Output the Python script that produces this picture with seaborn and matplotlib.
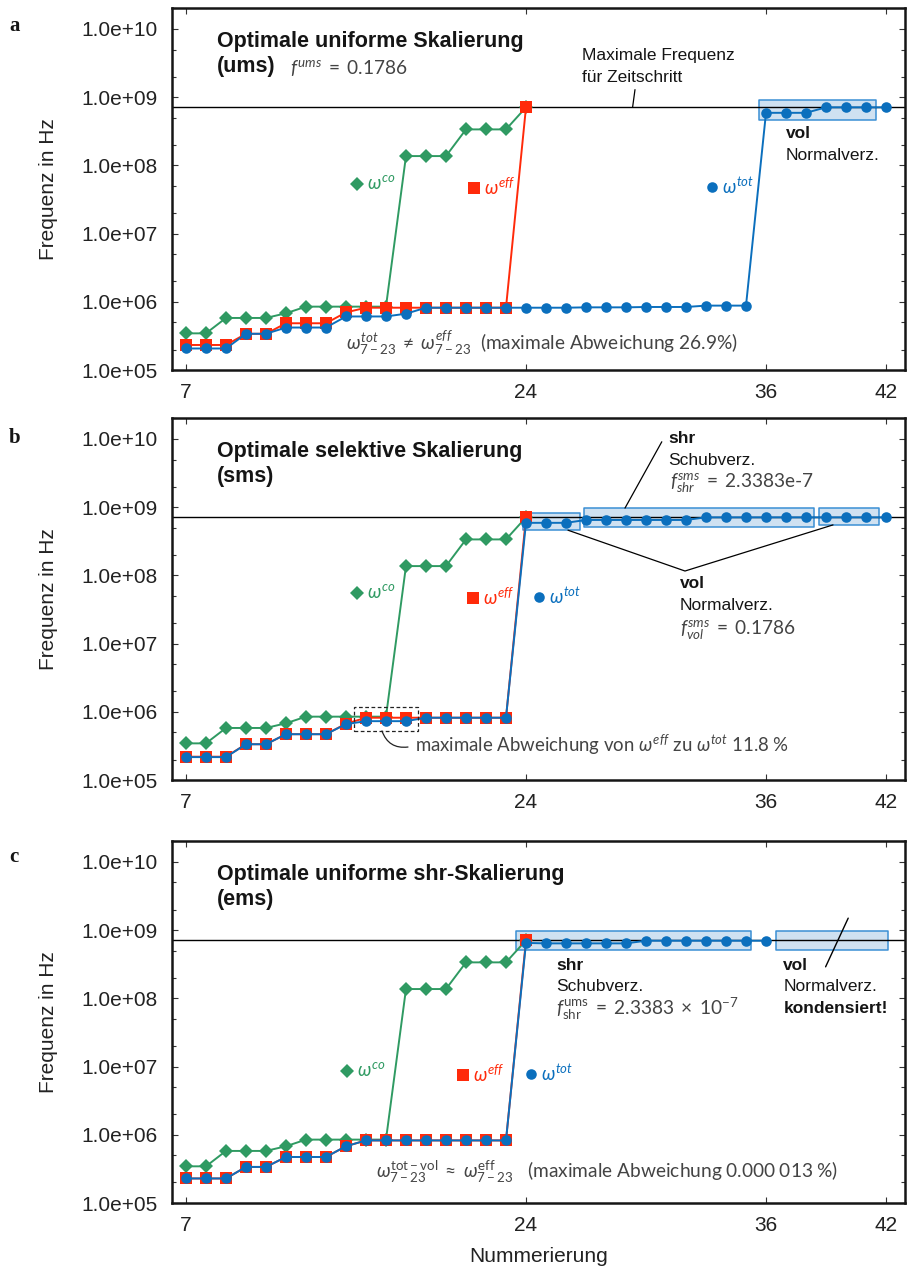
import numpy as np
import pandas as pd
import matplotlib
matplotlib.use("Agg")
import matplotlib.pyplot as plt
from matplotlib.patches import Rectangle
from matplotlib.ticker import LogLocator, NullFormatter, NullLocator
import seaborn as sns

# --- data --------------------------------------------------------------
nummer_kurz = list(range(7, 25))   # 7 .. 24
nummer_lang = list(range(7, 43))   # 7 .. 42
nummer_ems = list(range(7, 37))    # 7 .. 36

f_max = 7.1e8

omega_co = [3.45e5, 3.45e5, 5.8e5, 5.8e5, 5.8e5, 6.8e5, 8.5e5, 8.5e5, 8.5e5,
            8.5e5, 8.5e5, 1.37e8, 1.37e8, 1.37e8, 3.37e8, 3.37e8, 3.37e8, 7.1e8]

omega_eff_ums = [2.33e5, 2.33e5, 2.33e5, 3.4e5, 3.4e5, 4.85e5, 4.85e5, 4.85e5,
                 7.0e5, 8.2e5, 8.2e5, 8.2e5, 8.2e5, 8.2e5, 8.2e5, 8.2e5, 8.2e5, 7.1e8]
omega_tot_ums = [2.07e5, 2.07e5, 2.07e5, 3.4e5, 3.4e5, 4.2e5, 4.2e5, 4.2e5,
                 6.1e5, 6.1e5, 6.1e5, 6.7e5, 8.2e5, 8.2e5, 8.2e5, 8.2e5, 8.2e5,
                 8.2e5, 8.2e5, 8.2e5, 8.3e5, 8.3e5, 8.3e5, 8.4e5, 8.4e5, 8.4e5,
                 8.8e5, 8.8e5, 8.8e5, 5.9e8, 5.9e8, 5.9e8, 7.1e8, 7.1e8, 7.1e8, 7.1e8]

omega_eff_sms = [2.2e5, 2.2e5, 2.2e5, 3.35e5, 3.35e5, 4.7e5, 4.7e5, 4.7e5,
                 6.7e5, 8.2e5, 8.2e5, 8.2e5, 8.2e5, 8.2e5, 8.2e5, 8.2e5, 8.2e5, 7.1e8]
omega_tot_sms = [2.17e5, 2.17e5, 2.17e5, 3.35e5, 3.35e5, 4.7e5, 4.7e5, 4.7e5,
                 6.6e5, 7.3e5, 7.3e5, 7.3e5, 8.2e5, 8.2e5, 8.2e5, 8.2e5, 8.2e5,
                 5.9e8, 5.9e8, 5.9e8, 6.5e8, 6.5e8, 6.5e8, 6.5e8, 6.5e8, 6.5e8,
                 7.1e8, 7.1e8, 7.1e8, 7.1e8, 7.1e8, 7.1e8, 7.1e8, 7.1e8, 7.1e8, 7.1e8]

omega_eff_ems = [2.29e5, 2.29e5, 2.29e5, 3.38e5, 3.38e5, 4.73e5, 4.73e5, 4.73e5,
                 6.8e5, 8.27e5, 8.27e5, 8.27e5, 8.27e5, 8.27e5, 8.27e5, 8.27e5, 8.27e5, 7.1e8]
omega_tot_ems = [2.29e5, 2.29e5, 2.29e5, 3.38e5, 3.38e5, 4.73e5, 4.73e5, 4.73e5,
                 6.8e5, 8.27e5, 8.27e5, 8.27e5, 8.27e5, 8.27e5, 8.27e5, 8.27e5, 8.27e5,
                 6.5e8, 6.4e8, 6.4e8, 6.4e8, 6.4e8, 6.4e8, 7.0e8, 7.0e8, 7.0e8,
                 7.0e8, 7.0e8, 7.0e8, 7.0e8]

x_ticks = [7, 24, 36, 42]
y_ticks = [1e5, 1e6, 1e7, 1e8, 1e9, 1e10]
y_tick_labels = ["1.0e+05", "1.0e+06", "1.0e+07", "1.0e+08", "1.0e+09", "1.0e+10"]

GREEN = "#2f9a62"
RED = "#ff2a0a"
BLUE = "#0b6fbd"
GRAY = "#444444"
INK = "#151515"
BOX_FACE = "#cfe1f1"
BOX_EDGE = "#3b8fd4"

sns.set_theme(style="ticks")
plt.rcParams["font.family"] = ["Liberation Sans", "DejaVu Sans"]
plt.rcParams["mathtext.fontset"] = "custom"
plt.rcParams["mathtext.rm"] = "Lato"
plt.rcParams["mathtext.it"] = "Lato:italic"
plt.rcParams["mathtext.bf"] = "Lato:bold"
plt.rcParams["mathtext.sf"] = "Lato"
plt.rcParams["mathtext.fallback"] = "cm"

fig = plt.figure(figsize=(9.07, 12.69), dpi=100)
ax_a = fig.add_axes([0.1896, 0.7084, 0.8082, 0.2853])
ax_b = fig.add_axes([0.1896, 0.3853, 0.8082, 0.2853])
ax_c = fig.add_axes([0.1896, 0.0520, 0.8082, 0.2853])

MS = {"D": 7.4, "s": 8.6, "o": 7.6}
GSIZE = 13.8


def draw_series(ax, eff, tot_x, tot):
    sns.lineplot(x=nummer_kurz, y=omega_co, ax=ax, color=GREEN, marker="D",
                 markersize=MS["D"], markeredgewidth=0, linewidth=1.4, zorder=3)
    sns.lineplot(x=nummer_kurz, y=eff, ax=ax, color=RED, marker="s",
                 markersize=MS["s"], markeredgewidth=0, linewidth=1.4, zorder=4)
    sns.lineplot(x=tot_x, y=tot, ax=ax, color=BLUE, marker="o",
                 markersize=MS["o"], markeredgewidth=0, linewidth=1.4, zorder=5)
    ax.axhline(f_max, color="black", lw=1.0, zorder=2)


def style_axes(ax, xlabel=False):
    ax.set_yscale("log")
    ax.set_xlim(6.3, 42.95)
    ax.set_ylim(1e5, 2.03e10)
    ax.set_xticks(x_ticks)
    ax.set_xticklabels([str(t) for t in x_ticks])
    ax.set_yticks(y_ticks)
    ax.set_yticklabels(y_tick_labels)
    ax.yaxis.set_minor_locator(LogLocator(base=10, subs=(2.0, 5.0), numticks=30))
    ax.yaxis.set_minor_formatter(NullFormatter())
    ax.xaxis.set_minor_locator(NullLocator())
    ax.tick_params(which="both", direction="in", top=True, right=True,
                   color="#333333", width=0.8)
    ax.tick_params(which="major", length=4.5, labelsize=15, labelcolor="#222222")
    ax.tick_params(which="minor", length=3)
    ax.tick_params(axis="y", pad=10)
    ax.tick_params(axis="x", pad=9)
    for sp in ax.spines.values():
        sp.set_linewidth(1.8)
        sp.set_color(INK)
    ax.set_ylabel("Frequenz in Hz", fontsize=15, labelpad=17, color="#222222")
    if xlabel:
        ax.set_xlabel("Nummerierung", fontsize=15, labelpad=9, color="#222222")
    else:
        ax.set_xlabel("")


def txt(ax, x, y, s, size=12.5, **kw):
    kw.setdefault("color", INK)
    ax.text(x, y, s, transform=ax.transAxes, fontsize=size, ha="left",
            va="baseline", **kw)


def gtxt(ax, x, y, s, size=GSIZE):
    ax.text(x, y, s, transform=ax.transAxes, fontsize=size, ha="left",
            va="baseline", color=GRAY, family=["Lato", "DejaVu Sans"])


def box(ax, x0, x1, y0, y1):
    ax.add_patch(Rectangle((x0, y0), x1 - x0, y1 - y0, facecolor=BOX_FACE,
                           edgecolor=BOX_EDGE, lw=1.1, zorder=1.5,
                           joinstyle="round"))


def keys(ax, pos):
    labels = [r"$\omega^{co}$", r"$\omega^{eff}$", r"$\omega^{tot}$"]
    for (mx, my), mk, col, lab in zip(pos, ["D", "s", "o"], [GREEN, RED, BLUE], labels):
        ax.plot([mx], [my], marker=mk, color=col, ms=MS[mk], mew=0, ls="none", zorder=6)
        ax.annotate(lab, xy=(mx, my), xytext=(7, 0), textcoords="offset points",
                    va="center", ha="left", color=col, fontsize=13.5)


# --- panel a ----------------------------------------------------------
draw_series(ax_a, omega_eff_ums, nummer_lang, omega_tot_ums)
style_axes(ax_a)
box(ax_a, 35.65, 41.5, 4.6e8, 9.1e8)
txt(ax_a, 0.0614, 0.892, "Optimale uniforme Skalierung", size=15.5, fontweight="bold")
txt(ax_a, 0.0614, 0.823, "(ums)", size=15.5, fontweight="bold")
gtxt(ax_a, 0.161, 0.818, r"$f^{ums} \;=\; 0.1786$")
txt(ax_a, 0.560, 0.856, "Maximale Frequenz")
txt(ax_a, 0.560, 0.796, "für Zeitschritt")
ax_a.plot([29.45, 29.33], [1.29e9, f_max], color="black", lw=0.9, zorder=2)
txt(ax_a, 0.837, 0.641, "vol", fontweight="bold")
txt(ax_a, 0.837, 0.580, "Normalverz.")
keys(ax_a, [(15.55, 5.3e7), (21.4, 4.6e7), (33.3, 4.8e7)])
gtxt(ax_a, 0.237, 0.055,
     r"$\omega^{tot}_{7-23} \;\neq\; \omega^{eff}_{7-23}$  (maximale Abweichung 26.9%)")

# --- panel b ----------------------------------------------------------
draw_series(ax_b, omega_eff_sms, nummer_lang, omega_tot_sms)
style_axes(ax_b)
box(ax_b, 23.84, 26.72, 4.6e8, 8.2e8)
box(ax_b, 26.9, 38.4, 5.1e8, 9.7e8)
box(ax_b, 38.67, 41.67, 5.5e8, 9.7e8)
txt(ax_b, 0.0614, 0.892, "Optimale selektive Skalierung", size=15.5, fontweight="bold")
txt(ax_b, 0.0614, 0.823, "(sms)", size=15.5, fontweight="bold")
txt(ax_b, 0.677, 0.931, "shr", fontweight="bold")
txt(ax_b, 0.677, 0.870, "Schubverz.")
gtxt(ax_b, 0.679, 0.807, r"$f^{sms}_{shr} \;=\; 2.3383$e-7")
ax_b.plot([30.79, 28.95], [9.1e9, 9.7e8], color="black", lw=0.9, zorder=2)
txt(ax_b, 0.693, 0.530, "vol", fontweight="bold")
txt(ax_b, 0.693, 0.470, "Normalverz.")
gtxt(ax_b, 0.693, 0.400, r"$f^{sms}_{vol} \;=\; 0.1786$")
ax_b.plot([26.1, 31.95, 39.35], [4.6e8, 1.16e8, 5.5e8], color="black", lw=0.9, zorder=2)
keys(ax_b, [(15.55, 5.45e7), (21.35, 4.6e7), (24.65, 4.8e7)])
ax_b.add_patch(Rectangle((15.4, 5.25e5), 3.2, 1.18e6 - 5.25e5, facecolor="none",
                         edgecolor="#222222", lw=0.9, ls=(0, (3, 2)), zorder=6))
ax_b.annotate("", xy=(16.8, 5.25e5), xytext=(18.1, 3.05e5),
              arrowprops=dict(arrowstyle="-", color="#222222", lw=0.9,
                              connectionstyle="arc3,rad=-0.4",
                              shrinkA=0, shrinkB=0))
gtxt(ax_b, 0.3315, 0.077,
     r"maximale Abweichung von $\omega^{eff}$ zu $\omega^{tot}$ 11.8$\;$%", size=13.4)

# --- panel c ----------------------------------------------------------
draw_series(ax_c, omega_eff_ems, nummer_ems, omega_tot_ems)
style_axes(ax_c, xlabel=True)
box(ax_c, 23.5, 35.25, 5.2e8, 9.6e8)
box(ax_c, 36.5, 42.1, 5.2e8, 9.6e8)
ax_c.plot([40.11, 38.98], [1.5e9, 2.9e8], color="black", lw=1.0, zorder=6)
txt(ax_c, 0.0614, 0.892, "Optimale uniforme shr-Skalierung", size=15.5, fontweight="bold")
txt(ax_c, 0.0614, 0.823, "(ems)", size=15.5, fontweight="bold")
txt(ax_c, 0.524, 0.644, "shr", fontweight="bold")
txt(ax_c, 0.524, 0.586, "Schubverz.")
gtxt(ax_c, 0.524, 0.519,
     r"$f^{\mathrm{ums}}_{\mathrm{shr}} \;=\; 2.3383 \;\times\; 10^{-7}$")
txt(ax_c, 0.834, 0.644, "vol", fontweight="bold")
txt(ax_c, 0.834, 0.586, "Normalverz.")
txt(ax_c, 0.834, 0.526, "kondensiert!", fontweight="bold")
keys(ax_c, [(15.05, 8.6e6), (20.87, 7.5e6), (24.24, 7.7e6)])
gtxt(ax_c, 0.278, 0.069,
     r"$\omega^{\mathrm{tot-vol}}_{7-23} \;\approx\; \omega^{\mathrm{eff}}_{7-23}$   "
     r"(maximale Abweichung 0.000$\;$013$\;$%)")

# panel letters
for lab, ybase in [("a", 31), ("b", 443), ("c", 862)]:
    fig.text(9 / 907, 1 - ybase / 1269, lab, fontsize=15, fontweight="bold",
             family=["Liberation Serif", "DejaVu Serif"], va="baseline", ha="left",
             color=INK)

fig.savefig("out.png", dpi=100)
